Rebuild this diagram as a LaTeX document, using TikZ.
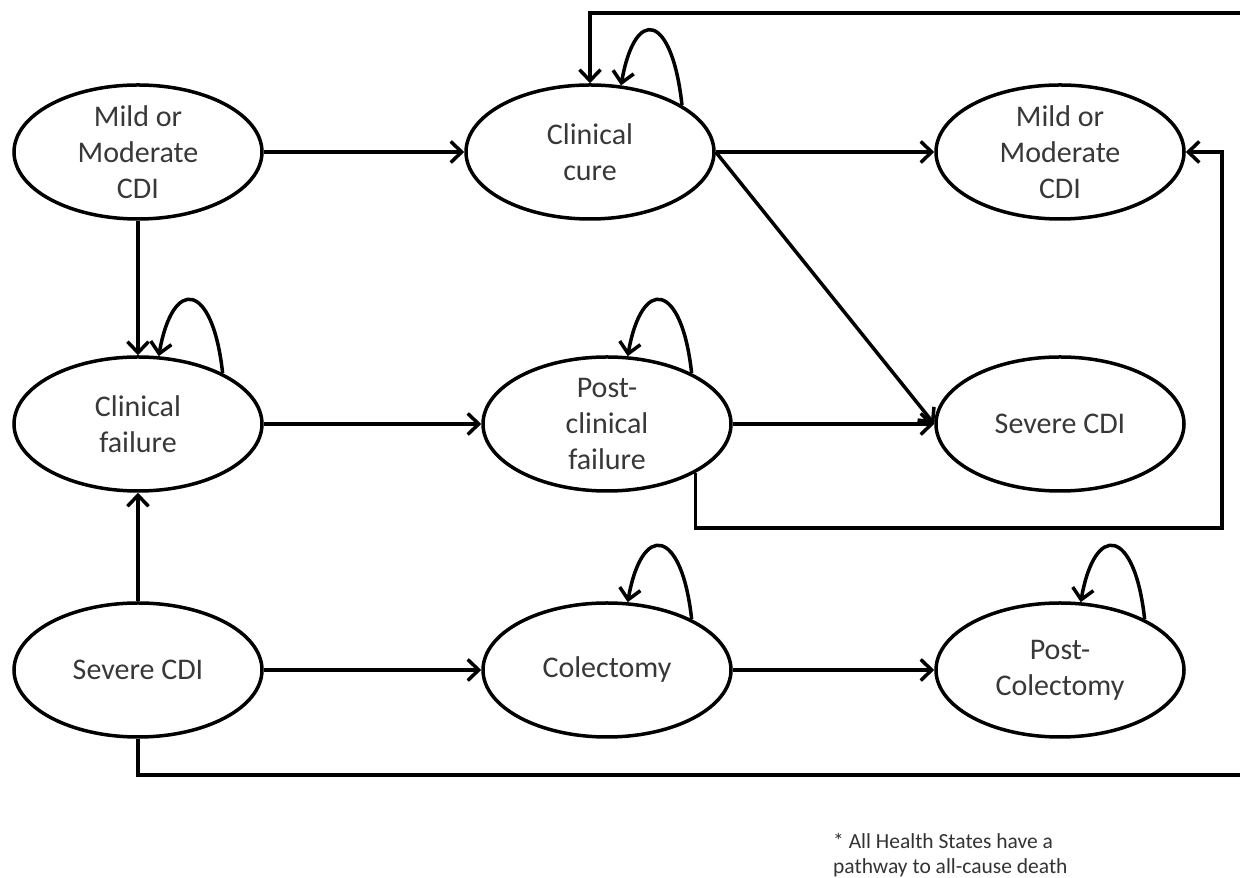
\documentclass[tikz,border=0pt]{standalone}
\usepackage{fontspec}
\setmainfont{Carlito}
\usetikzlibrary{shapes.geometric,arrows.meta}

\begin{document}
\begin{tikzpicture}[x=1pt,y=1pt,
	state/.style={draw, ellipse, line width=3.5pt, minimum width=248pt, minimum height=134pt,
		inner sep=0pt, align=center, text=black!78, font=\fontsize{30}{36}\selectfont},
	arr/.style={line width=3.5pt, -{Straight Barb[length=11pt,width=21pt]}},
	note/.style={inner sep=0pt, align=left, text=black!80, font=\fontsize{21.5}{25}\selectfont}]
	% Frame of the picture
	\useasboundingbox (0,0) rectangle (1240,878);
	\clip (0,0) rectangle (1240,878);
	
	% Health states
	\node[state] (mildL) at (138,726) {Mild or\\Moderate\\CDI};
	\node[state] (cure) at (590,726) {Clinical\\cure};
	\node[state] (mildR) at (1060,726) {Mild or\\Moderate\\CDI};
	\node[state] (failL) at (138,454) {Clinical\\failure};
	\node[state] (postF) at (607,454) {Post-\\clinical\\failure};
	\node[state] (sevR) at (1060,454) {Severe CDI};
	\node[state] (sevL) at (138,208) {Severe CDI};
	\node[state] (colect) at (607,208) {Colectomy};
	\node[state] (postC) at (1060,208) {Post-\\Colectomy};
	
	% Corners of the long return lines
	\coordinate (rtA) at (1222,350);
	\coordinate (outB) at (1262,103);
	\coordinate (outT) at (1262,865);
	
	% Transitions
	\draw[arr] (mildL) -- (cure);
	\draw[arr] (cure) -- (mildR);
	\draw[arr] (cure.east) -- (sevR.west);
	\draw[arr] (mildL) -- (failL);
	\draw[arr] (failL) -- (postF);
	\draw[arr] (postF) -- (sevR);
	\draw[arr] (sevL) -- (failL);
	\draw[arr] (sevL) -- (colect);
	\draw[arr] (colect) -- (postC);
	\draw[arr] (postF.-29) |- (rtA) |- (mildR.east);
	\draw[arr] (sevL.south) |- (outB) -- (outT) -| (cure.north);
	
	% Staying in the same state
	\draw[arr] (cure.27) .. controls +(-10,92) and +(14,80) .. (cure.65);
	\foreach \s in {failL,postF,colect,postC}
	\draw[arr] (\s.31) .. controls +(-10,92) and +(14,80) .. (\s.73);
	
	\node[note, anchor=north west] (death) at (833,45) {* All Health States have a\\pathway to all-cause death};
\end{tikzpicture}
\end{document}
